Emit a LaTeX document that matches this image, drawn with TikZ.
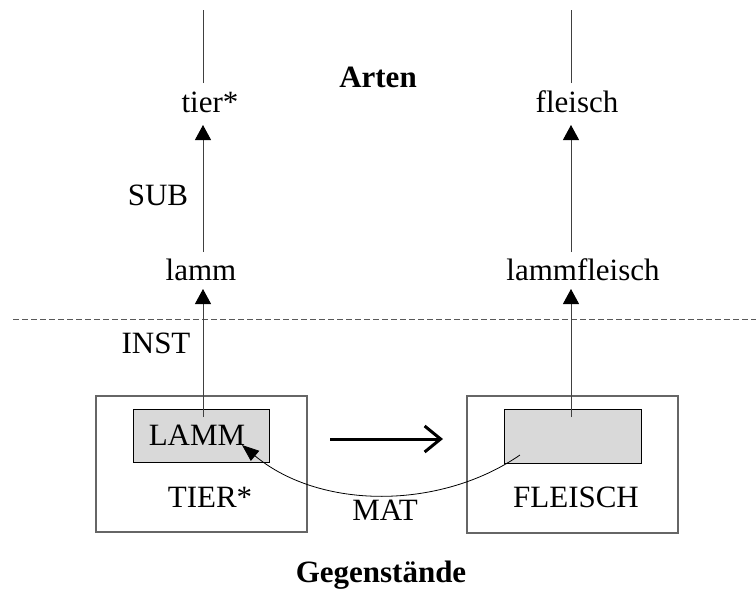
\documentclass[tikz,border=0pt]{standalone}
\usepackage{fontspec}
\setmainfont{Liberation Serif}
\usetikzlibrary{arrows.meta}
\begin{document}
\begin{tikzpicture}[x=1pt,y=-1pt,
  lbl/.style={anchor=base,inner sep=0pt,font=\fontsize{31}{37}\selectfont},
  head/.style={lbl,font=\fontsize{31}{37}\selectfont\bfseries},
  thin/.style={draw=black!75,line width=1pt},
  isa/.style={thin,-{Triangle[length=15pt,width=16pt,color=black]}},
  outerbox/.style={draw=black!60,line width=1.5pt},
  innerbox/.style={draw=black,line width=1pt,fill=black!15},
  sep/.style={draw=black!65,line width=1pt,dash pattern=on 6pt off 3pt},
  mat/.style={draw=black,line width=0.8pt,-{Triangle[length=17pt,width=13pt]}},
  bigarrow/.style={line width=3pt,-{Straight Barb[length=16pt,width=26pt,line width=3pt]}}]
\useasboundingbox (0,0) rectangle (756,590);

% headings
\node[head] (arten) at (378,87) {Arten};
\node[head] (gegen) at (381,582) {Gegenstände};

% kinds (upper level)
\node[lbl] (tier) at (210,112) {tier*};
\node[lbl] (fleisch) at (577,112) {fleisch};
\node[lbl] (lamm) at (201,280) {lamm};
\node[lbl] (lammfl) at (583,280) {lammfleisch};
\node[lbl] (sub) at (158,205) {SUB};
\node[lbl] (inst) at (156,353) {INST};

% lines continuing upwards
\coordinate (tierTop) at (203,10);
\coordinate (tierUp) at (203,83);
\coordinate (fleischTop) at (571,10);
\coordinate (fleischUp) at (571,83);
\draw[thin] (tierUp) -- (tierTop);
\draw[thin] (fleischUp) -- (fleischTop);

% subsumption arrows
\coordinate (tierIn) at (203,125);
\coordinate (lammOut) at (203,252);
\coordinate (fleischIn) at (571,125);
\coordinate (lammflOut) at (571,252);
\draw[isa] (lammOut) -- (tierIn);
\draw[isa] (lammflOut) -- (fleischIn);

% separator between kinds and objects
\coordinate (sepL) at (13,319);
\coordinate (sepR) at (756,319);
\draw[sep] (sepL) -- (sepR);

% objects
\node[outerbox,minimum width=211pt,minimum height=136pt,inner sep=0pt] (tierBox) at (201.5,464) {};
\node[outerbox,minimum width=211pt,minimum height=137pt,inner sep=0pt] (fleischBox) at (572.5,464.5) {};
\node[innerbox,minimum width=136pt,minimum height=53pt,inner sep=0pt] (lammIn) at (201,436) {};
\node[innerbox,minimum width=137pt,minimum height=54pt,inner sep=0pt] (fleischIn2) at (572.5,436) {};
\node[lbl] (lammTxt) at (197,445) {LAMM};
\node[lbl] (tierTxt) at (210,507) {TIER*};
\node[lbl] (fleischTxt) at (576,507) {FLEISCH};
\node[lbl] (matTxt) at (385,520) {MAT};

% instance arrows
\coordinate (lammInTop) at (203,417);
\coordinate (lammInst) at (203,289);
\coordinate (fleischInTop) at (571,417);
\coordinate (lammflInst) at (571,289);
\draw[isa] (lammInTop) -- (lammInst);
\draw[isa] (fleischInTop) -- (lammflInst);

% transformation arrow
\coordinate (shiftA) at (330,439);
\coordinate (shiftB) at (443,439);
\draw[bigarrow] (shiftA) -- (shiftB);

% material relation
\coordinate (matFrom) at (520,455);
\coordinate (matTo) at (242,445);
\draw[mat] (matFrom) .. controls (440,510) and (320,510) .. (matTo);
\end{tikzpicture}
\end{document}
